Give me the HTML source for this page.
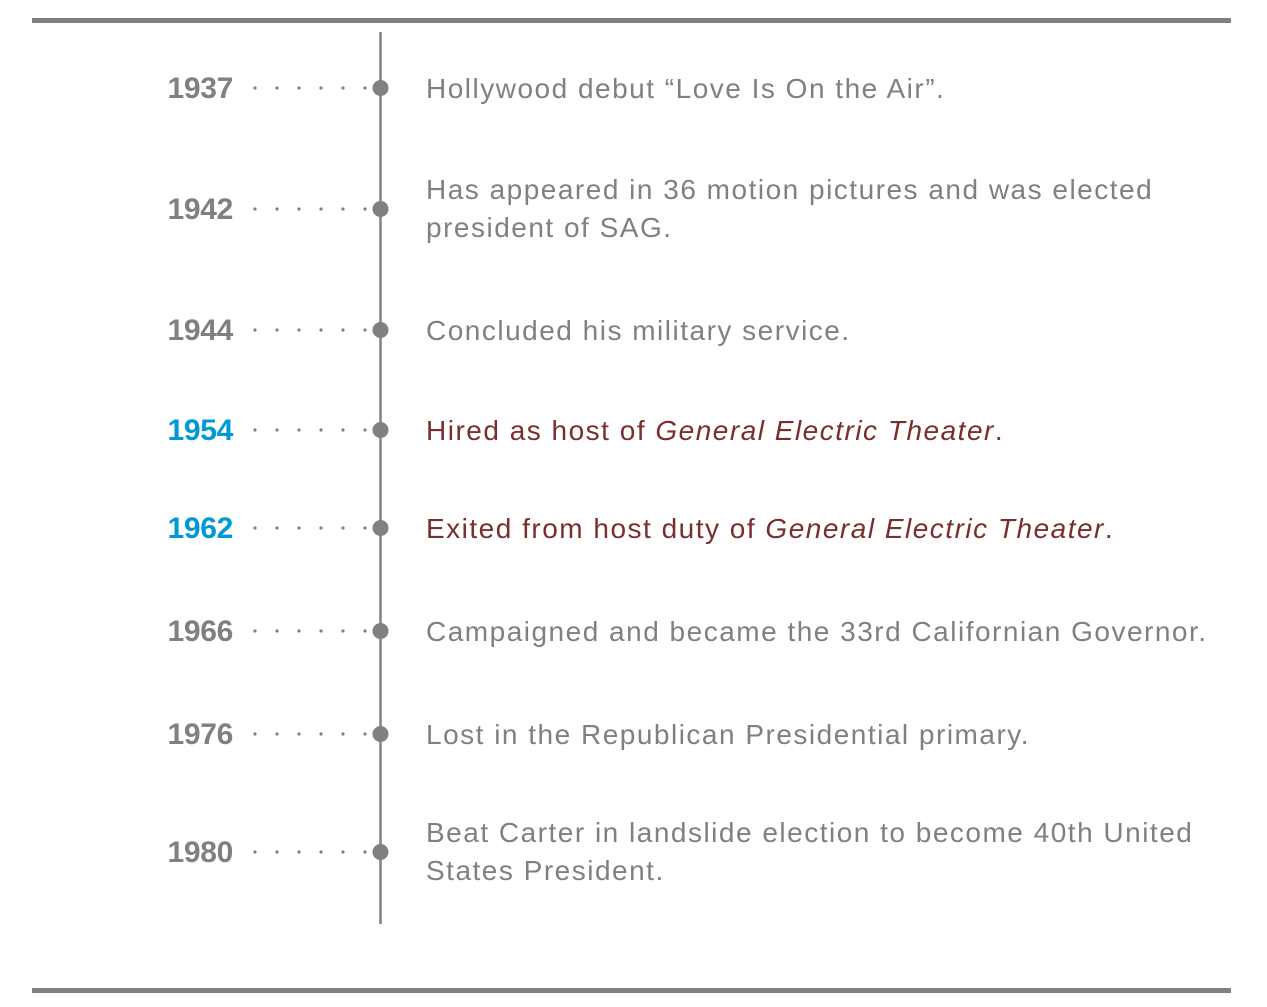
<!DOCTYPE html>
<html><head><meta charset="utf-8"><style>
html,body{margin:0;padding:0;background:#fff;}
svg{display:block;}
text{font-family:"Liberation Sans",sans-serif;}
</style></head><body>
<svg id="chart" width="1267" height="1007" viewBox="0 0 1267 1007">
<rect x="32" y="18" width="1199" height="5" fill="#808080"/>
<rect x="32" y="988" width="1199" height="5" fill="#808080"/>
<line x1="380.5" y1="32" x2="380.5" y2="924" stroke="#808080" stroke-width="2.5"/>
<g id="rows"></g>
</svg>
<script>
const years = ["1937","1942","1944","1954","1962","1966","1976","1980"];
const rowY = [88,209,330,430,528,631,734,852];
const highlighted = [false,false,false,true,true,false,false,false];
const descriptions = [
  [["Hollywood debut “Love Is On the Air”.", false]],
  [["Has appeared in 36 motion pictures and was elected", false],["president of SAG.", false]],
  [["Concluded his military service.", false]],
  [["Hired as host of ", false],["General Electric Theater", true],[".", false]],
  [["Exited from host duty of ", false],["General Electric Theater", true],[".", false]],
  [["Campaigned and became the 33rd Californian Governor.", false]],
  [["Lost in the Republican Presidential primary.", false]],
  [["Beat Carter in landslide election to become 40th United", false],["States President.", false]]
];
const NS="http://www.w3.org/2000/svg";
const g=document.getElementById('rows');
function mk(t,a){const e=document.createElementNS(NS,t);for(const k in a)e.setAttribute(k,a[k]);return e;}
years.forEach((yr,i)=>{
  const y=rowY[i];
  const grp=mk('g',{});
  
  
  const yt=mk('text',{x:233,y:y+10,'text-anchor':'end','font-size':30,'font-weight':'bold',fill:highlighted[i]?'#0099d6':'#808080','letter-spacing':'-0.3'});
  
  
  yt.textContent=yr;grp.appendChild(yt);
  for(let k=0;k<6;k++){
    const d=mk('circle',{cx:255+k*22,cy:y,r:1.6,fill:'#808080'});
    
    
    grp.appendChild(d);
  }
  const m=mk('circle',{cx:380.5,cy:y,r:8,fill:'#808080'});
  
  
  grp.appendChild(m);
  const desc=descriptions[i];
  const color=highlighted[i]?'#7a2e2e':'#808080';
  const multi=(i===1||i===7);
  const attrs={'font-size':28,fill:color,'letter-spacing':'1.5'};
  if(multi){
    desc.forEach((ln,j)=>{
      const t=mk('text',Object.assign({x:426,y:y-20+j*38+10},attrs));
      
      
      t.textContent=ln[0];grp.appendChild(t);
    });
  } else {
    const t=mk('text',Object.assign({x:426,y:y+10},attrs));
    
    
    desc.forEach(p=>{const s=mk('tspan',{});if(p[1])s.setAttribute('font-style','italic');s.textContent=p[0];t.appendChild(s);});
    grp.appendChild(t);
  }
  g.appendChild(grp);
});
</script>
</body></html>
